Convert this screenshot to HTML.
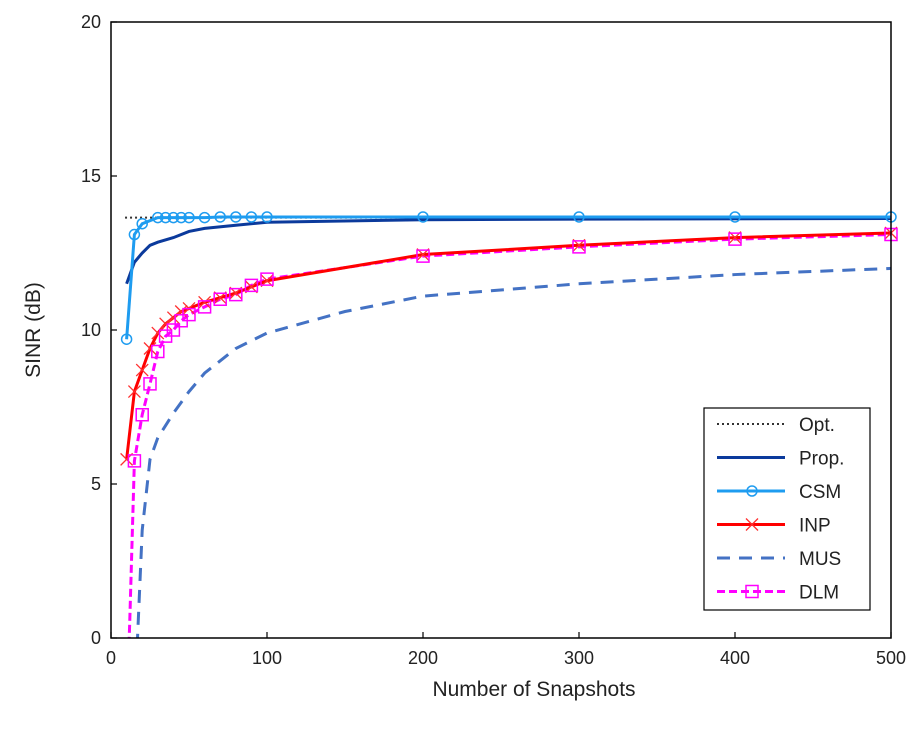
<!DOCTYPE html>
<html><head><meta charset="utf-8"><style>
html,body{margin:0;padding:0;background:#fff;width:922px;height:740px;overflow:hidden}
text{font-family:"Liberation Sans",Arial,sans-serif;fill:#222}
</style></head><body>
<svg id="chart" width="922" height="740" xmlns="http://www.w3.org/2000/svg">
<defs><clipPath id="pc"><rect x="111" y="22" width="780" height="616"/></clipPath></defs>
<g id="grid"></g>
<g id="series" clip-path="url(#pc)"></g>
<g id="markers"></g>
<rect x="111" y="22" width="780" height="616" fill="none" stroke="#000" stroke-width="1.5"/>
<g id="axes"></g>
<text x="534" y="696" font-size="21" text-anchor="middle">Number of Snapshots</text>
<text transform="translate(40,330) rotate(-90)" font-size="21" text-anchor="middle">SINR (dB)</text>
<g id="legend"></g>
</svg>
<script>
const xTicks=[0,100,200,300,400,500];
const yTicks=[0,5,10,15,20];
const optX=[9,500];
const optY=[13.65,13.65];
const propX=[10,15,20,25,30,40,50,60,80,100,200,300,500];
const propY=[11.5,12.2,12.5,12.75,12.85,13.0,13.2,13.3,13.4,13.5,13.58,13.6,13.62];
const csmX=[10,15,20,30,35,40,45,50,60,70,80,90,100,200,300,400,500];
const csmY=[9.7,13.1,13.45,13.65,13.65,13.65,13.65,13.65,13.65,13.67,13.67,13.67,13.67,13.67,13.67,13.67,13.67];
const inpX=[10,15,20,25,30,35,40,45,50,60,70,80,90,100,200,300,400,500];
const inpY=[5.8,8.0,8.7,9.4,9.9,10.2,10.4,10.6,10.7,10.9,11.05,11.2,11.4,11.6,12.45,12.75,13.0,13.15];
const musX=[16,17,20,25,30,40,50,60,80,100,150,200,300,400,500];
const musY=[-1,0,3.5,5.8,6.5,7.3,8.0,8.6,9.4,9.9,10.6,11.1,11.5,11.8,12.0];
const dlmX=[11,12,15,20,25,30,35,40,45,50,60,70,80,90,100,200,300,400,500];
const dlmY=[-1,0.5,5.75,7.25,8.25,9.3,9.8,10.0,10.3,10.5,10.75,11.0,11.15,11.45,11.65,12.4,12.7,12.95,13.1];
const dlmMarkX=dlmX.slice(2);const dlmMarkY=dlmY.slice(2);

const X=v=>111+v*780/500, Y=v=>638-v*616/20;
const NS="http://www.w3.org/2000/svg";
function mk(t,a,p){const e=document.createElementNS(NS,t);for(const k in a)e.setAttribute(k,a[k]);p.appendChild(e);return e;}
const axes=document.getElementById('axes');
xTicks.forEach(t=>{
 const l=mk('line',{x1:X(t),x2:X(t),y1:638,y2:632,stroke:'#000','stroke-width':1.2},axes);
 
 const tx=mk('text',{x:X(t),y:664,'font-size':18,'text-anchor':'middle'},axes);tx.textContent=t;
 
});
yTicks.forEach(t=>{
 const l=mk('line',{x1:111,x2:117,y1:Y(t),y2:Y(t),stroke:'#000','stroke-width':1.2},axes);
 
 const tx=mk('text',{x:101,y:Y(t)+6,'font-size':18,'text-anchor':'end'},axes);tx.textContent=t;
 
});
const S=document.getElementById('series'),M=document.getElementById('markers');
function line(xs,ys,st,name){
 const p=mk('polyline',Object.assign({points:xs.map((x,i)=>X(x)+','+Y(ys[i])).join(' '),fill:'none'},st),S);
 
}
line(optX,optY,{stroke:'#333','stroke-width':2,'stroke-dasharray':'2,3'},'opt-line');
line(musX,musY,{stroke:'#4472c4','stroke-width':3,'stroke-dasharray':'13,9'},'mus-line');
line(dlmX,dlmY,{stroke:'#ff00ff','stroke-width':3,'stroke-dasharray':'8,4'},'dlm-line');
line(inpX,inpY,{stroke:'#ff0000','stroke-width':3},'inp-line');
line(propX,propY,{stroke:'#0b3a9c','stroke-width':3},'prop-line');
line(csmX,csmY,{stroke:'#1e9cf0','stroke-width':3},'csm-line');
function circ(x,y,g){const c=mk('circle',{cx:x,cy:y,r:5,fill:'none',stroke:'#1e9cf0','stroke-width':1.5},g);return c;}
function cross(x,y,g){const c=mk('path',{d:`M${x-6},${y-6}L${x+6},${y+6}M${x-6},${y+6}L${x+6},${y-6}`,stroke:'#ff3030','stroke-width':1.3},g);return c;}
function sq(x,y,g){const c=mk('path',{d:`M${x-6},${y-6}h12v12h-12z`,fill:'none',stroke:'#ff00ff','stroke-width':1.5},g);return c;}
inpX.forEach((x,i)=>{const c=cross(X(x),Y(inpY[i]),M);});
dlmMarkX.forEach((x,i)=>{const c=sq(X(x),Y(dlmMarkY[i]),M);});
csmX.forEach((x,i)=>{const c=circ(X(x),Y(csmY[i]),M);});
// legend
const L=document.getElementById('legend');
mk('rect',{x:704,y:408,width:166,height:202,fill:'#fff',stroke:'#000','stroke-width':1.2},L);
const items=[['Opt.',{stroke:'#333','stroke-width':2,'stroke-dasharray':'2,3'},null],
['Prop.',{stroke:'#0b3a9c','stroke-width':3},null],
['CSM',{stroke:'#1e9cf0','stroke-width':3},circ],
['INP',{stroke:'#ff0000','stroke-width':3},cross],
['MUS',{stroke:'#4472c4','stroke-width':3,'stroke-dasharray':'13,9'},null],
['DLM',{stroke:'#ff00ff','stroke-width':3,'stroke-dasharray':'8,4'},sq]];
items.forEach((it,i)=>{
 const y=424+i*33.5;
 const g=mk('g',{},L);
 
 mk('line',Object.assign({x1:717,x2:785,y1:y,y2:y},it[1]),g);
 if(it[2])it[2](752,y,g);
 const t=mk('text',{x:799,y:y+7,'font-size':19},g);t.textContent=it[0];
});
</script>
</body></html>
